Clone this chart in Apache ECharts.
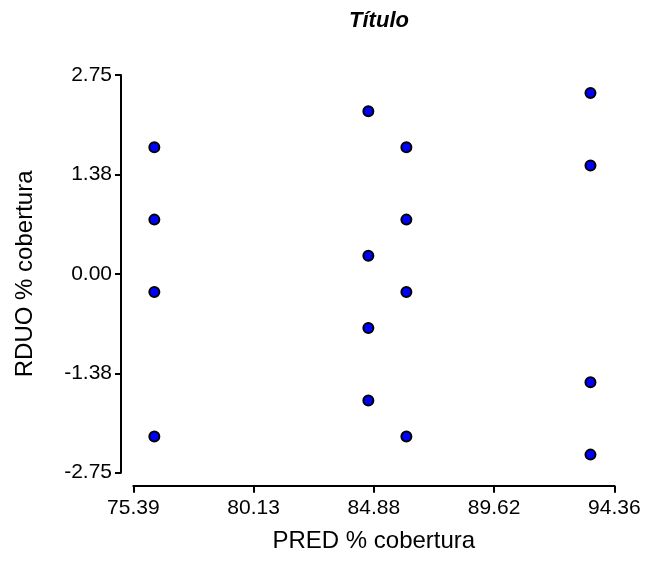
<!DOCTYPE html>
<html>
<head>
<meta charset="utf-8">
<script src="https://cdn.jsdelivr.net/npm/echarts@6/dist/echarts.min.js"></script>
<style>
  html, body { margin: 0; padding: 0; background: #ffffff; }
  #chart { width: 648px; height: 562px; }
</style>
</head>
<body>
<div id="chart"></div>
<script>
// PRED (x) and RDUO (y) for each observation, % cobertura
const predValues = [76.22, 76.22, 76.22, 76.22,
                    84.66, 84.66, 84.66, 84.66,
                    86.16, 86.16, 86.16, 86.16,
                    93.42, 93.42, 93.42, 93.42];
const rduoValues = [1.75, 0.75, -0.25, -2.25,
                    2.25, 0.25, -0.75, -1.75,
                    1.75, 0.75, -0.25, -2.25,
                    2.50, 1.50, -1.50, -2.50];

const xTickLabels = ['75.39', '80.13', '84.88', '89.62', '94.36'];
const yTickLabels = ['-2.75', '-1.38', '0.00', '1.38', '2.75'];

const xMin = 75.39, xMax = 94.36;
const yMin = -2.75, yMax = 2.75;
const xStep = (xMax - xMin) / (xTickLabels.length - 1);
const yStep = (yMax - yMin) / (yTickLabels.length - 1);

const points = predValues.map((x, i) => [x, rduoValues[i]]);

const font = 'Liberation Sans, Arial, sans-serif';
const axisLine = { show: true, onZero: false, lineStyle: { color: '#000', width: 2 } };

function tickLabel(labels, min, step) {
  return function (v) {
    const i = Math.round((v - min) / step);
    return labels[i] !== undefined ? labels[i] : '';
  };
}

const chart = echarts.init(document.getElementById('chart'), null, { renderer: 'canvas' });
chart.setOption({
  animation: false,
  backgroundColor: '#ffffff',
  title: {
    text: 'Título',
    left: 374,
    top: 5,
    textAlign: 'center',
    textStyle: { fontFamily: font, fontSize: 22, fontWeight: 'bold', fontStyle: 'italic', color: '#000' }
  },
  grid: { left: 133.3, right: 33.7, top: 75, bottom: 89.3, containLabel: false },
  xAxis: {
    type: 'value',
    min: xMin,
    max: xMax,
    interval: xStep,
    offset: 13,
    name: 'PRED % cobertura',
    nameLocation: 'middle',
    nameGap: 44,
    nameTextStyle: { fontFamily: font, fontSize: 24, color: '#000' },
    axisLine: axisLine,
    axisTick: { show: true, length: 7, lineStyle: { color: '#000', width: 2 } },
    axisLabel: { fontFamily: font, fontSize: 21, color: '#000', margin: 12, formatter: tickLabel(xTickLabels, xMin, xStep) },
    splitLine: { show: false }
  },
  yAxis: {
    type: 'value',
    min: yMin,
    max: yMax,
    interval: yStep,
    offset: 12.3,
    name: 'RDUO % cobertura',
    nameLocation: 'middle',
    nameGap: 84,
    nameRotate: 90,
    nameTextStyle: { fontFamily: font, fontSize: 24, color: '#000' },
    axisLine: axisLine,
    axisTick: { show: true, length: 6, lineStyle: { color: '#000', width: 2 } },
    axisLabel: { fontFamily: font, fontSize: 21, color: '#000', margin: 9, formatter: tickLabel(yTickLabels, yMin, yStep) },
    splitLine: { show: false }
  },
  series: [{
    type: 'scatter',
    data: points,
    symbol: 'circle',
    symbolSize: 10,
    itemStyle: { color: '#0000ff', borderColor: '#000', borderWidth: 2, opacity: 1 }
  }]
});
</script>
</body>
</html>
